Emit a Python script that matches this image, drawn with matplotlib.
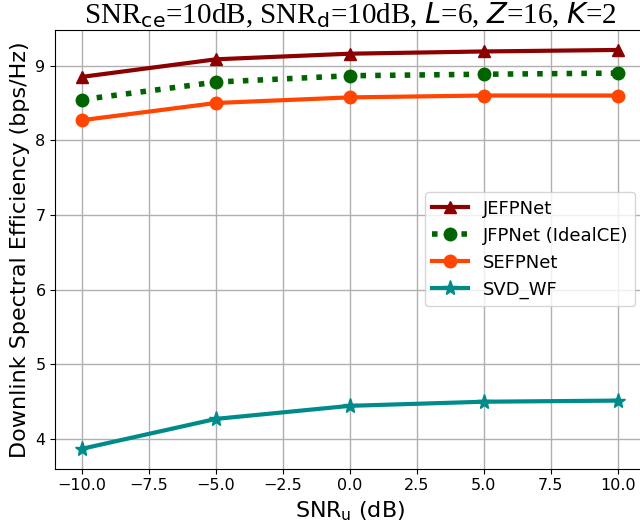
import matplotlib
matplotlib.use('Agg')
import matplotlib.pyplot as plt

snr_u = [-10, -5, 0, 5, 10]
jefpnet = [8.85, 9.085, 9.16, 9.19, 9.21]
jfpnet_ideal = [8.545, 8.78, 8.865, 8.885, 8.90]
sefpnet = [8.27, 8.50, 8.575, 8.60, 8.60]
svd_wf = [3.87, 4.27, 4.445, 4.50, 4.515]


def main():
    fig = plt.figure(figsize=(6.4, 5.23), dpi=100)
    ax = fig.add_axes([0.0864, 0.1038, 0.9206, 0.8388])

    ax.plot(snr_u, jefpnet, color='darkred', marker='^', linewidth=3, markersize=9, label='JEFPNet')
    ax.plot(snr_u, jfpnet_ideal, color='darkgreen', marker='o', linestyle=':', linewidth=4, markersize=9,
            label='JFPNet (IdealCE)')
    ax.plot(snr_u, sefpnet, color='orangered', marker='o', linewidth=3, markersize=9, label='SEFPNet')
    ax.plot(snr_u, svd_wf, color='darkcyan', marker='*', linewidth=3, markersize=11, label='SVD_WF')

    ax.set_xlabel('SNR$_\\mathrm{u}$ (dB)', fontsize=16)
    ax.set_ylabel('Downlink Spectral Efficiency (bps/Hz)', fontsize=16)
    ax.set_title('SNR$_\\mathrm{ce}$=10dB, SNR$_\\mathrm{d}$=10dB, $L$=6, $Z$=16, $K$=2',
                 fontsize=21, family='Liberation Serif', pad=5)

    ax.tick_params(axis='both', labelsize=11.5)
    ax.grid(True, color='#b0b0b0', linewidth=1)
    ax.legend(loc='center right', fontsize=13)

    fig.savefig('out.png', dpi=100)


if __name__ == '__main__':
    main()
